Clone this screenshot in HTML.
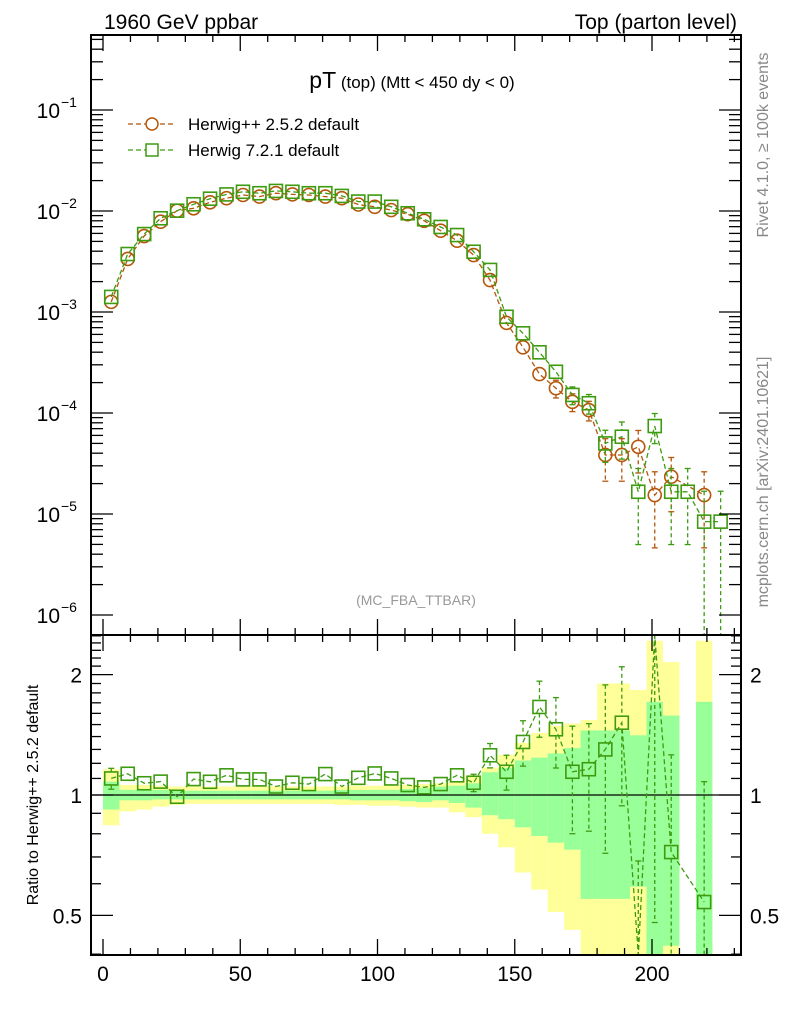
<!DOCTYPE html>
<html><head><meta charset="utf-8">
<style>
html,body{margin:0;padding:0;background:#fff;}
svg{display:block;font-family:"Liberation Sans",Arial,sans-serif;}
</style></head>
<body>
<svg id="chart" width="786" height="1024" viewBox="0 0 786 1024" xmlns="http://www.w3.org/2000/svg">
  <text x="104" y="29" font-size="21" fill="#000">1960 GeV ppbar</text>
  <text x="737" y="29" font-size="21" fill="#000" text-anchor="end">Top (parton level)</text>
  <text x="412" y="88" font-size="17" text-anchor="middle"><tspan font-size="23">pT</tspan> (top) (Mtt &lt; 450 dy &lt; 0)</text>
  <text x="416" y="605" font-size="14" fill="#999" text-anchor="middle">(MC_FBA_TTBAR)</text>
  <text transform="translate(768,145) rotate(-90)" font-size="16" fill="#888" text-anchor="middle">Rivet 4.1.0, ≥ 100k events</text>
  <text transform="translate(768,482) rotate(-90)" font-size="16" fill="#888" text-anchor="middle">mcplots.cern.ch [arXiv:2401.10621]</text>
  <text transform="translate(38,795) rotate(-90)" font-size="16" fill="#000" text-anchor="middle">Ratio to Herwig++ 2.5.2 default</text>
  <g id="bands"></g>
  <g id="marks"></g>
  <g id="axes"></g>
  <g id="legend">
    <line x1="128" y1="124" x2="174" y2="124" stroke="#b5560b" stroke-width="1.3" stroke-dasharray="5,3"/>
    <circle cx="152" cy="124" r="6" fill="#fff" stroke="#b5560b" stroke-width="1.5"/>
    <text x="188" y="130" font-size="17">Herwig++ 2.5.2 default</text>
    <line x1="128" y1="150" x2="174" y2="150" stroke="#3d9b10" stroke-width="1.3" stroke-dasharray="5,3"/>
    <rect x="146" y="144" width="12" height="12" fill="#fff" stroke="#3d9b10" stroke-width="1.5"/>
    <text x="188" y="156" font-size="17">Herwig 7.2.1 default</text>
  </g>
</svg>
<script>
const binCenters=[3,9,15,21,27,33,39,45,51,57,63,69,75,81,87,93,99,105,111,117,123,129,135,141,147,153,159,165,171,177,183,189,195,201,207,213,219,225];
const herwigppValues=[1.26e-3,3.35e-3,5.65e-3,7.83e-3,1.007e-2,1.064e-2,1.22e-2,1.34e-2,1.44e-2,1.39e-2,1.50e-2,1.46e-2,1.44e-2,1.39e-2,1.34e-2,1.16e-2,1.10e-2,1.02e-2,9.3e-3,8.0e-3,6.38e-3,5.08e-3,3.66e-3,2.07e-3,7.8e-4,4.47e-4,2.43e-4,1.76e-4,1.29e-4,1.07e-4,3.84e-5,3.84e-5,4.63e-5,1.54e-5,2.34e-5,null,1.54e-5,null];
const herwigppRelErr=[0.05,0.04,0.03,0.03,0.03,0.03,0.03,0.03,0.03,0.03,0.03,0.03,0.03,0.03,0.03,0.03,0.03,0.03,0.03,0.03,0.04,0.05,0.06,0.08,0.08,0.1,0.15,0.2,0.2,0.22,0.45,0.45,0.45,0.7,0.55,0,0.7,0];
const herwig7Values=[1.41e-3,3.75e-3,5.91e-3,8.47e-3,1.007e-2,1.166e-2,1.324e-2,1.46e-2,1.55e-2,1.50e-2,1.58e-2,1.55e-2,1.50e-2,1.50e-2,1.41e-2,1.24e-2,1.24e-2,1.10e-2,9.5e-3,8.28e-3,6.95e-3,5.78e-3,3.95e-3,2.61e-3,8.97e-4,6.15e-4,3.99e-4,2.56e-4,1.51e-4,1.25e-4,5.0e-5,5.82e-5,1.66e-5,7.43e-5,1.66e-5,1.66e-5,8.4e-6,8.4e-6];
const herwig7RelErr=[0.05,0.04,0.03,0.03,0.03,0.03,0.03,0.03,0.03,0.03,0.03,0.03,0.03,0.03,0.03,0.03,0.03,0.03,0.03,0.03,0.04,0.05,0.06,0.07,0.1,0.1,0.12,0.15,0.2,0.22,0.35,0.4,0.7,0.33,0.7,0.7,1,1];
const ratioValues=[1.10,1.13,1.07,1.08,0.99,1.096,1.079,1.12,1.094,1.094,1.05,1.073,1.065,1.128,1.05,1.104,1.132,1.10,1.059,1.045,1.065,1.12,1.073,1.257,1.143,1.357,1.66,1.46,1.143,1.16,1.30,1.516,0.36,4.8,0.72,null,0.54,null];
const ratioRelErr=[0.06,0.04,0.03,0.03,0.03,0.03,0.03,0.03,0.03,0.03,0.03,0.03,0.03,0.03,0.03,0.03,0.03,0.03,0.03,0.03,0.04,0.04,0.05,0.07,0.1,0.13,0.16,0.2,0.3,0.3,0.45,0.38,0.9,0.9,0.75,0,1.0,0];
const bandYellowUp=[1.16,1.06,1.06,1.055,1.05,1.05,1.05,1.05,1.05,1.05,1.05,1.05,1.05,1.05,1.05,1.055,1.055,1.06,1.06,1.065,1.07,1.08,1.12,1.17,1.26,1.35,1.43,1.49,1.51,1.54,1.9,1.9,1.83,2.43,2.15,null,2.43,null];
const bandGreenUp=[1.08,1.03,1.03,1.03,1.025,1.025,1.025,1.025,1.025,1.025,1.025,1.025,1.025,1.025,1.03,1.03,1.03,1.03,1.035,1.04,1.05,1.055,1.07,1.14,1.17,1.22,1.24,1.27,1.31,1.45,1.45,1.45,1.41,1.71,1.58,null,1.71,null];
const bandGreenDown=[0.92,0.97,0.97,0.975,0.975,0.975,0.975,0.975,0.975,0.975,0.975,0.975,0.975,0.975,0.975,0.97,0.97,0.97,0.965,0.96,0.97,0.955,0.93,0.89,0.87,0.83,0.79,0.76,0.73,0.55,0.55,0.55,0.59,0.3,0.42,null,0.3,null];
const bandYellowDown=[0.84,0.91,0.92,0.935,0.945,0.95,0.95,0.95,0.95,0.95,0.95,0.95,0.95,0.95,0.945,0.945,0.94,0.94,0.935,0.93,0.93,0.905,0.88,0.80,0.74,0.64,0.58,0.51,0.46,0.3,0.3,0.3,0.3,0.3,0.3,null,0.3,null];
const binWidth=6;
const xTickLabels=[0,50,100,150,200];
const mainDecades=[-6,-5,-4,-3,-2,-1];
const ratioTickLabels=[0.5,1,2];

const NS="http://www.w3.org/2000/svg";
const L=91,R=741,MT=35,MB=635,RT=635,RB=955;
const X=v=>103+v*2.745;
const YM=v=>211-(Math.log10(v)+2)*101;
const YR=v=>795-Math.log10(v)*400;
const clampM=y=>Math.max(MT,Math.min(MB,y));
const clampR=y=>Math.max(RT,Math.min(RB,y));
const OR="#b5560b",GR="#3d9b10";
function mk(tag,attrs,parent){const e=document.createElementNS(NS,tag);for(const k in attrs)e.setAttribute(k,attrs[k]);parent.appendChild(e);return e;}
const bands=document.getElementById('bands'),marks=document.getElementById('marks'),axes=document.getElementById('axes');

binCenters.forEach((c,i)=>{
  if(bandYellowUp[i]==null)return;
  const x0=X(c-binWidth/2),w=X(c+binWidth/2)-x0;
  const yu=clampR(YR(bandYellowUp[i])),yd=clampR(YR(bandYellowDown[i]));
  const r1=mk('rect',{x:x0,y:yu,width:w,height:yd-yu,fill:'#ffff99'},bands);
  
  
  const gu=clampR(YR(bandGreenUp[i])),gd=clampR(YR(bandGreenDown[i]));
  const r2=mk('rect',{x:x0,y:gu,width:w,height:gd-gu,fill:'#99ff99'},bands);
  
  
});
const ref=mk('line',{x1:L,x2:R,y1:YR(1),y2:YR(1),stroke:'#000','stroke-width':1.3},bands);



function series(vals,errs,Yf,clamp,color,shape,name){
  const isMain=clamp===clampM, top=isMain?MT:RT, bot=isMain?MB:RB;
  const pts=[];
  binCenters.forEach((c,i)=>{ if(vals[i]!=null) pts.push([X(c),Yf(vals[i]),i]); });
  let d='';
  for(let k=0;k<pts.length;k++){d+=(k?'L':'M')+pts[k][0].toFixed(1)+','+clamp(pts[k][1]).toFixed(1);}
  const ln=mk('path',{d:d,fill:'none',stroke:color,'stroke-width':1.3,'stroke-dasharray':'5,3'},marks);
  
  
  const H=6.5;
  pts.forEach(([x,y,i])=>{
    const v=vals[i],e=errs[i];
    const inside=y>=top&&y<=bot;
    if(e>0){
      const yt=clamp(Yf(v*(1+e)));
      const lo=v*(1-e);
      const yb=lo>0?clamp(Yf(lo)):bot;
      const segs=inside?[[yt,Math.min(y-H,yb)],[Math.max(y+H,yt),yb]]:[[yt,yb]];
      segs.forEach(([a,b])=>{
        if(b-a>1){
          const eb=mk('line',{x1:x,x2:x,y1:a,y2:b,stroke:color,'stroke-width':1.3,'stroke-dasharray':'4,3'},marks);
          
          
        }
      });
      [yt,yb].forEach(yy=>{
        if(yy>top+1&&yy<bot-1&&(!inside||Math.abs(yy-y)>H+1)){
          const cap=mk('line',{x1:x-3,x2:x+3,y1:yy,y2:yy,stroke:color,'stroke-width':1.3},marks);
          
          
        }
      });
    }
    if(!inside)return;
    let m;
    if(shape==='circle') m=mk('circle',{cx:x,cy:y,r:H,fill:'none',stroke:color,'stroke-width':1.6},marks);
    else m=mk('rect',{x:x-H,y:y-H,width:2*H,height:2*H,fill:'none',stroke:color,'stroke-width':1.6},marks);
    
    
  });
}
series(herwigppValues,herwigppRelErr,YM,clampM,OR,'circle','herwigpp');
series(herwig7Values,herwig7RelErr,YM,clampM,GR,'square','herwig7');
series(ratioValues,ratioRelErr,YR,clampR,GR,'square','ratio-herwig7');

const f1=mk('rect',{x:L,y:MT,width:R-L,height:MB-MT,fill:'none',stroke:'#000','stroke-width':2},axes);


const f2=mk('rect',{x:L,y:RT,width:R-L,height:RB-RT,fill:'none',stroke:'#000','stroke-width':2},axes);



for(let v=0;v<=230;v+=10){
  const major=v%50===0,x=X(v);
  [[RB,-1],[MB,-1],[MT,1],[RT,1]].forEach(([y0,dir])=>{
    const len=major?16:7;
    mk('line',{x1:x,x2:x,y1:y0,y2:y0+dir*len,stroke:'#000','stroke-width':1.3},axes);
  });
}
xTickLabels.forEach(v=>{
  const t=mk('text',{x:X(v),y:981,'font-size':21,'text-anchor':'middle'},axes);
  t.textContent=v;
  
  
});
mainDecades.forEach(d=>{
  for(let m=1;m<10;m++){
    const y=YM(m*Math.pow(10,d));
    if(y<MT||y>MB)continue;
    const len=m===1?22:12;
    mk('line',{x1:L,x2:L+len,y1:y,y2:y,stroke:'#000','stroke-width':1.3},axes);
    mk('line',{x1:R,x2:R-len,y1:y,y2:y,stroke:'#000','stroke-width':1.3},axes);
  }
  const y=YM(Math.pow(10,d));
  const t=mk('text',{x:60,y:y+8,'font-size':21,'text-anchor':'end'},axes);
  t.textContent='10';
  
  
  const s=mk('text',{x:61,y:y-3,'font-size':14,'text-anchor':'start'},axes);
  s.textContent='\u2212'+Math.abs(d);
  
  
});
for(let v=0.4;v<=2.5001;v+=0.1){
  const y=YR(v);
  if(y<RT||y>RB)continue;
  const major=[0.5,1,2].some(m=>Math.abs(v-m)<1e-6);
  const len=major?22:10;
  mk('line',{x1:L,x2:L+len,y1:y,y2:y,stroke:'#000','stroke-width':1.3},axes);
  mk('line',{x1:R,x2:R-len,y1:y,y2:y,stroke:'#000','stroke-width':1.3},axes);
}
ratioTickLabels.forEach(v=>{
  const y=YR(v)+8;
  const t=mk('text',{x:82,y:y,'font-size':21,'text-anchor':'end'},axes);
  t.textContent=v;
  
  
  const t2=mk('text',{x:750,y:y,'font-size':21,'text-anchor':'start'},axes);
  t2.textContent=v;
  
  
});
</script>
</body></html>
